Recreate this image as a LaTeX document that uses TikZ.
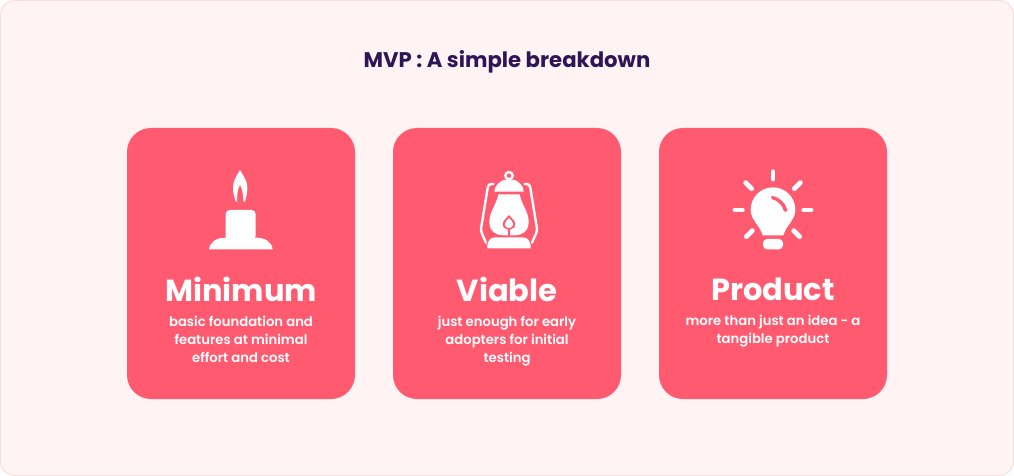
\documentclass[tikz,border=0pt]{standalone}
\usepackage{fontspec}
\setmainfont{Poppins}
\newfontfamily\semifont{Poppins SemiBold}
\usepackage{tikz}
\usetikzlibrary{positioning}
\definecolor{pagepink}{HTML}{FFF3F3}
\definecolor{edgepink}{HTML}{F8E0E0}
\definecolor{cardred}{HTML}{FF5A6F}
\definecolor{titleink}{HTML}{2E1558}

\begin{document}
\begin{tikzpicture}[x=1pt,y=-1pt,
    card/.style={rectangle, fill=cardred, rounded corners=24pt, minimum width=228pt,
      minimum height=271pt, inner sep=0pt},
    head/.style={text=white, font=\fontsize{30.5}{31}\selectfont\bfseries, inner sep=0pt},
    blurb/.style={text=white, font=\fontsize{13.2}{18}\selectfont\semifont, align=center, inner sep=0pt},
    icon/.style={x=0.3333pt,y=-0.3333pt},
    ray/.style={draw=white, line width=4.8pt, line cap=round},
    wire/.style={draw=white, line width=2.4pt, line cap=round, line join=round}]

  \useasboundingbox (0,0) rectangle (1014,476);
  \node[fill=pagepink, draw=edgepink, line width=1pt, rounded corners=14pt, minimum width=1013pt,
    minimum height=475pt, inner sep=0pt] (page) at (507,238) {};
  \node[text=titleink, font=\fontsize{21.2}{24}\selectfont\bfseries, inner sep=0pt] (title) at (507,62) {MVP : A simple breakdown};

  \node[card] (minimum) at (241,263.5) {};
  \node[card] (viable) at (507,263.5) {};
  \node[card] (product) at (773,263.5) {};

  \node[head] (minhead) at (241,289.5) {Minimum};
  \node[head] (viahead) at (507,289.5) {Viable};
  \node[head] (prohead) at (773,289.5) {Product};

  \node[blurb, below=14pt of minhead] (minblurb) {basic foundation and\\features at minimal\\effort and cost};
  \node[blurb, below=14pt of viahead] (viablurb) {just enough for early\\adopters for initial\\testing};
  \node[blurb, below=14pt of prohead] (problurb) {more than just an idea - a\\tangible product};

  % candle
  \begin{scope}[shift={(190,160)},icon]
    \fill[white] (150,30) .. controls (160,48) and (172,60) .. (172,85) .. controls (172,102) and (168,112) .. (165,125)
      -- (160,125) .. controls (160,105) and (158,90) .. (150,74) .. controls (142,90) and (141,105) .. (141,125)
      -- (137,125) .. controls (134,112) and (129,102) .. (129,85) .. controls (129,60) and (140,48) .. (150,30) -- cycle;
    \fill[white, rounded corners=4pt] (107,234) -- (107,150) -- (197,150) -- (197,240) -- (107,240) -- cycle;
    \fill[white] (57,268) .. controls (60,245) and (80,233) .. (107,233) -- (197,233)
      .. controls (225,233) and (245,245) .. (248,268) -- cycle;
  \end{scope}

  % lantern
  \begin{scope}[shift={(460,160)},icon]
    \draw[wire] (147,47) circle (11);
    \fill[white] (103,95) .. controls (103,78) and (118,66) .. (130,60) -- (164,60)
      .. controls (178,66) and (191,78) .. (191,95) -- cycle;
    \draw[wire, rounded corners=3pt] (100,72) -- (85,72) -- (62,212) -- (78,248);
    \draw[wire, rounded corners=3pt] (194,72) -- (209,72) -- (232,212) -- (216,248);
    \fill[white] (115,103) -- (179,103) .. controls (185,135) and (206,155) .. (206,185)
      .. controls (206,215) and (185,226) .. (165,226) -- (129,226)
      .. controls (109,226) and (88,215) .. (88,185) .. controls (88,155) and (109,135) .. (115,103) -- cycle;
    \fill[cardred] (147,165) .. controls (155,175) and (166,182) .. (166,192) .. controls (166,202) and (158,208) .. (150,209)
      -- (150,232) -- (144,232) -- (144,209) .. controls (136,208) and (128,202) .. (128,192)
      .. controls (128,182) and (139,175) .. (147,165) -- cycle;
    \fill[white] (147,174) .. controls (152,180) and (160,186) .. (160,193) .. controls (160,200) and (153,204) .. (147,204)
      .. controls (141,204) and (134,200) .. (134,193) .. controls (134,186) and (142,180) .. (147,174) -- cycle;
    \fill[white] (82,265) .. controls (80,250) and (88,232) .. (105,232) -- (189,232)
      .. controls (206,232) and (214,250) .. (212,265) -- cycle;
  \end{scope}

  % bulb
  \begin{scope}[shift={(723,160)},icon]
    \fill[white] (150,82) .. controls (187,82) and (217,112) .. (217,149) .. controls (217,180) and (190,195) .. (181,226)
      -- (119,226) .. controls (110,195) and (83,180) .. (83,149) .. controls (83,112) and (113,82) .. (150,82) -- cycle;
    \fill[white, rounded corners=4pt] (120,237) -- (180,237) -- (180,268) -- (120,268) -- cycle;
    \fill[cardred] (147,108) .. controls (170,112) and (188,128) .. (193,152) .. controls (190,158) and (184,156) .. (182,152)
      .. controls (178,135) and (165,122) .. (148,118) .. controls (143,116) and (143,110) .. (147,108) -- cycle;
    \draw[ray] (150,35) -- (150,57);
    \draw[ray] (36,150) -- (58,150);
    \draw[ray] (242,150) -- (264,150);
    \draw[ray] (68,68) -- (86,86);
    \draw[ray] (232,68) -- (214,86);
    \draw[ray] (70,230) -- (88,212);
    \draw[ray] (230,230) -- (212,212);
  \end{scope}
\end{tikzpicture}
\end{document}
